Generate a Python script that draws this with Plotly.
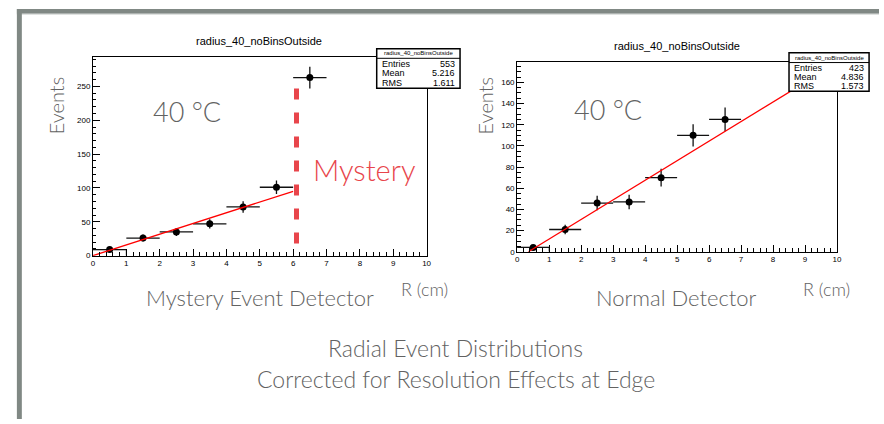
import numpy as np
import plotly.graph_objects as go

# ---------------- data ----------------
bin_centers = [0.5, 1.5, 2.5, 3.5, 4.5, 5.5, 6.5]
bin_half_width = 0.5
mystery_counts = [9, 26, 35, 47, 72, 101, 263]
normal_counts = [4, 21, 46, 47, 70, 110, 125]

# fit lines (endpoints)
mystery_fit_x = [0.0, 6.0]
mystery_fit_y = [0.0, 95.0]
normal_fit_x = [0.35, 10.0]
normal_fit_y = [0.0, 178.5]

# "Mystery" boundary marker (data coordinates)
mystery_edge_x = 6.1
mystery_edge_y = [18, 247]

hist_name = "radius_40_noBinsOutside"
stats_labels = ["Entries", "Mean", "RMS"]
mystery_stats = ["553", "5.216", "1.611"]
normal_stats = ["423", "4.836", "1.573"]

x_ticks = list(range(0, 11))
left_y_ticks = [0, 50, 100, 150, 200, 250]
right_y_ticks = [0, 20, 40, 60, 80, 100, 120, 140, 160]

# ---------------- layout helpers ----------------
W, H = 884, 424


def px(x):
    return x / W


def py(y):
    return 1 - y / H


TXT = "#626262"
RED = "#e8454b"
FONT = "Lato"
ROOT_FONT = "Liberation Sans"

fig = go.Figure()


def add_hist(counts, xa, ya):
    errs = np.sqrt(np.array(counts, dtype=float))
    # first-bin outline
    fig.add_trace(go.Scatter(
        x=[0, bin_centers[0] + bin_half_width, bin_centers[0] + bin_half_width],
        y=[counts[0], counts[0], 0], mode="lines",
        line=dict(color="#222", width=1), xaxis=xa, yaxis=ya,
        hoverinfo="skip", showlegend=False))
    fig.add_trace(go.Scatter(
        x=bin_centers, y=counts, mode="markers",
        marker=dict(color="black", size=7),
        error_y=dict(type="data", array=errs, color="#111", thickness=1.3, width=0),
        error_x=dict(type="constant", value=bin_half_width, color="#111", thickness=1.3, width=0),
        xaxis=xa, yaxis=ya, showlegend=False))


add_hist(mystery_counts, "x", "y")
add_hist(normal_counts, "x2", "y2")

fig.add_trace(go.Scatter(x=mystery_fit_x, y=mystery_fit_y, mode="lines",
                         line=dict(color="#ff0000", width=1.3), xaxis="x", yaxis="y",
                         showlegend=False))
fig.add_trace(go.Scatter(x=normal_fit_x, y=normal_fit_y, mode="lines",
                         line=dict(color="#ff0000", width=1.3), xaxis="x2", yaxis="y2",
                         showlegend=False))

# Mystery dashed boundary
fig.add_trace(go.Scatter(x=[mystery_edge_x, mystery_edge_x], y=mystery_edge_y, mode="lines",
                         line=dict(color=RED, width=5, dash="11px,13px"),
                         xaxis="x", yaxis="y", showlegend=False))

axis_common = dict(
    showline=True, linecolor="black", linewidth=1, mirror=True,
    ticks="inside", ticklen=7, tickcolor="black", tickwidth=1,
    showgrid=False, zeroline=False,
    tickfont=dict(family=ROOT_FONT, size=8, color="black"),
)

fig.update_layout(
    width=W, height=H,
    margin=dict(l=0, r=0, t=0, b=0),
    paper_bgcolor="white", plot_bgcolor="white",
    xaxis=dict(domain=[px(91.7), px(428)], range=[0, 10], anchor="y",
               tickvals=x_ticks, minor=dict(dtick=0.2, ticks="inside", ticklen=3.5, tickcolor="black"),
               **axis_common),
    yaxis=dict(domain=[py(258.7), py(57.3)], range=[0, 294], anchor="x",
               tickvals=left_y_ticks, minor=dict(dtick=10, ticks="inside", ticklen=3.5, tickcolor="black"),
               **axis_common),
    xaxis2=dict(domain=[px(519.3), px(841.7)], range=[0, 10], anchor="y2",
                tickvals=x_ticks, minor=dict(dtick=0.2, ticks="inside", ticklen=3.5, tickcolor="black"),
                **axis_common),
    yaxis2=dict(domain=[py(254.7), py(62.3)], range=[0, 179.7], anchor="x2",
                tickvals=right_y_ticks, minor=dict(dtick=5, ticks="inside", ticklen=3.5, tickcolor="black"),
                **axis_common),
)

shapes = []
annotations = []

# gray slide frame
FRAME = "#808884"
shapes.append(dict(type="rect", xref="paper", yref="paper", x0=px(15), x1=px(884), y0=py(14), y1=py(9),
                   fillcolor=FRAME, line=dict(width=0), layer="above"))
shapes.append(dict(type="rect", xref="paper", yref="paper", x0=px(15), x1=px(884), y0=py(15), y1=py(14),
                   fillcolor="#d4d8d6", line=dict(width=0), layer="above"))
shapes.append(dict(type="rect", xref="paper", yref="paper", x0=px(15), x1=px(20), y0=py(424), y1=py(9),
                   fillcolor=FRAME, line=dict(width=0), layer="above"))


def stats_box(x0, x1, y0, yh, y1, values, row_ys, head_y):
    shapes.append(dict(type="rect", xref="paper", yref="paper", x0=px(x0), x1=px(x1), y0=py(y1), y1=py(y0),
                       fillcolor="white", line=dict(color="black", width=1.5), layer="above"))
    shapes.append(dict(type="line", xref="paper", yref="paper", x0=px(x0), x1=px(x1), y0=py(yh), y1=py(yh),
                       line=dict(color="black", width=1), layer="above"))
    annotations.append(dict(x=px((x0 + x1) / 2), y=py(head_y), xref="paper", yref="paper",
                            text=hist_name, showarrow=False, xanchor="center", yanchor="middle",
                            font=dict(family=ROOT_FONT, size=6, color="black")))
    for lab, val, ry in zip(stats_labels, values, row_ys):
        annotations.append(dict(x=px(x0 + 3), y=py(ry), xref="paper", yref="paper", text=lab,
                                showarrow=False, xanchor="left", yanchor="middle",
                                font=dict(family=ROOT_FONT, size=9, color="black")))
        annotations.append(dict(x=px(x1 - 3), y=py(ry), xref="paper", yref="paper", text=val,
                                showarrow=False, xanchor="right", yanchor="middle",
                                font=dict(family=ROOT_FONT, size=9, color="black")))


stats_box(377.7, 461.7, 49.3, 59.0, 89.3, mystery_stats, [64.5, 74.0, 83.5], 54.0)
stats_box(793.3, 874.0, 53.3, 63.3, 92.3, normal_stats, [68.5, 78.0, 87.5], 58.3)


def text(x, y, s, size, color=TXT, anchor="center", angle=0, family=FONT):
    annotations.append(dict(x=px(x), y=py(y), xref="paper", yref="paper", text=s, showarrow=False,
                            xanchor=anchor, yanchor="middle", textangle=angle,
                            font=dict(family=family, size=size, color=color, weight=300)))


# histogram titles
text(259, 41.7, hist_name, 11, color="black", family=ROOT_FONT)
text(680, 46.7, hist_name, 11, color="black", family=ROOT_FONT)

text(186.7, 112.5, "40 °C", 27)
text(610.8, 110.8, "40 °C", 27)
text(54, 107, "Events", 20, angle=-90)
text(486.5, 107, "Events", 20, angle=-90)
text(365, 172, "Mystery", 29, color=RED)

text(260, 301, "Mystery Event Detector", 22)
text(425.5, 292, "R (cm)", 18)
text(679.5, 301, "Normal Detector", 22)
text(831.3, 292, "R (cm)", 18)
text(457.5, 352, "Radial Event Distributions", 23)
text(457.5, 384, "Corrected for Resolution Effects at Edge", 23)

fig.update_layout(shapes=shapes, annotations=annotations)

fig.write_html(
    "out.html",
    config={"displayModeBar": False},
    post_script="document.body.style.margin='0';document.body.style.overflow='hidden';"
                "document.documentElement.style.overflow='hidden';",
)
